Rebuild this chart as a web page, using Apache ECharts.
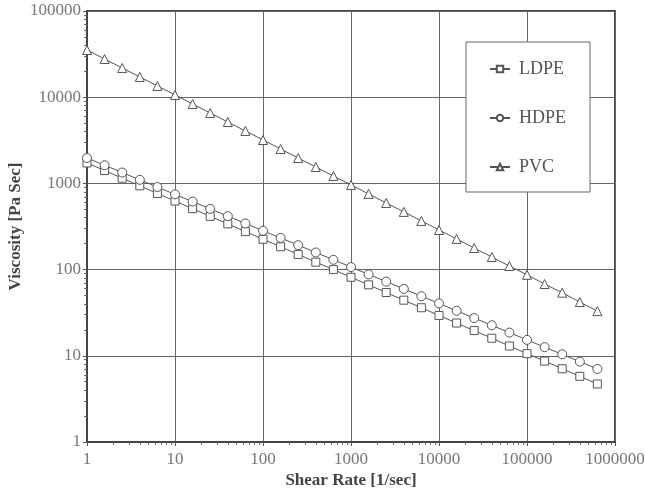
<!DOCTYPE html>
<html><head><meta charset="utf-8">
<script src="https://cdn.jsdelivr.net/npm/echarts@6/dist/echarts.min.js"></script>
<style>html,body{margin:0;padding:0;background:#fff}#c{width:645px;height:493px}</style>
</head><body><div id="c"></div>
<script>
var shearRate = [1,1.585,2.512,3.981,6.31,10,15.85,25.12,39.81,63.1,100,158.5,251.2,398.1,631,1000,1585,2512,3981,6310,10000,15850,25120,39810,63100,100000,158500,251200,398100,631000];
var ldpe = [1726,1408,1149,937,764,624,509,415,339,276,225,184,150,122,100,81.5,66.5,54.2,44.2,36.1,29.4,24.0,19.6,16.0,13.0,10.6,8.68,7.08,5.78,4.71];
var hdpe = [1972,1624,1337,1101,907,746,615,506,417,343,282,233,192,158,130,107,88,72.5,59.7,49.1,40.5,33.3,27.4,22.6,18.6,15.3,12.6,10.4,8.55,7.04];
var pvc = [35300,27770,21830,17180,13500,10620,8340,6560,5160,4060,3190,2510,1970,1550,1220,960,755,593,467,367,288,227,178,140,110,87,68,54,42,33];
var seriesNames = ['LDPE','HDPE','PVC'];
var xTitle = 'Shear Rate [1/sec]';
var yTitle = 'Viscosity [Pa Sec]';

function pairs(ys){return ys.map(function(y,i){return [shearRate[i],y];});}
var serif = '"Liberation Serif","DejaVu Serif",serif';
var chart = echarts.init(document.getElementById('c'), null, {renderer:'canvas'});
function mk(name, data, sym, size){
  return {name:name,type:'line',data:pairs(data),symbol:sym,symbolSize:size,showSymbol:true,
    lineStyle:{color:'#555',width:1},itemStyle:{color:'#fff',borderColor:'#555',borderWidth:1},
    emphasis:{disabled:true},animation:false};
}
chart.setOption({
  backgroundColor:'#fff',
  animation:false,
  grid:{left:87,right:30,top:11,bottom:51,show:true,borderColor:'#444',borderWidth:2,containLabel:false,outerBoundsMode:'none'},
  legend:{orient:'vertical',left:466,top:42,
    padding:[18,24,16,23],itemGap:31,itemWidth:20,itemHeight:8,
    backgroundColor:'#fff',borderColor:'#666',borderWidth:1,
    textStyle:{fontFamily:serif,fontSize:18,color:'#555',padding:[0,0,0,4]},
    data:seriesNames},
  xAxis:{type:'log',logBase:10,min:1,max:1000000,
    name:xTitle,nameLocation:'middle',nameGap:30,nameMoveOverlap:false,
    nameTextStyle:{fontFamily:serif,fontSize:17,fontWeight:'bold',color:'#444'},
    axisLine:{show:true,lineStyle:{color:'#444',width:2}},
    axisTick:{show:true,length:4,lineStyle:{color:'#555'}},
    minorTick:{show:true,splitNumber:9,length:3,lineStyle:{color:'#666'}},
    axisLabel:{fontFamily:serif,fontSize:17,color:'#777',margin:9,formatter:function(v){return String(Math.round(v));}},
    splitLine:{show:true,lineStyle:{color:'#666',width:1}}},
  yAxis:{type:'log',logBase:10,min:1,max:100000,
    name:yTitle,nameLocation:'middle',nameGap:63,nameMoveOverlap:false,
    nameTextStyle:{fontFamily:serif,fontSize:17,fontWeight:'bold',color:'#444'},
    axisLine:{show:true,lineStyle:{color:'#444',width:2}},
    axisTick:{show:true,length:4,lineStyle:{color:'#555'}},
    minorTick:{show:true,splitNumber:9,length:3,lineStyle:{color:'#666'}},
    axisLabel:{fontFamily:serif,fontSize:17,color:'#777',margin:6,formatter:function(v){return String(Math.round(v));}},
    splitLine:{show:true,lineStyle:{color:'#666',width:1}}},
  series:[mk('LDPE',ldpe,'rect',8),mk('HDPE',hdpe,'circle',9),mk('PVC',pvc,'triangle',9)]
});
</script></body></html>
